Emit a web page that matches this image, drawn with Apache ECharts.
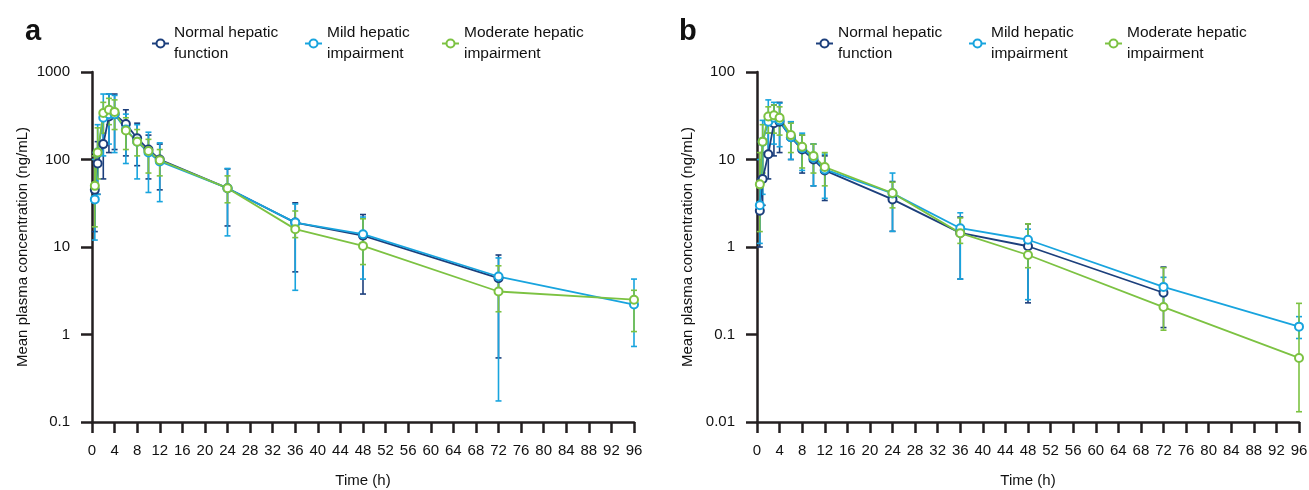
<!DOCTYPE html>
<html>
<head>
<meta charset="utf-8">
<script src="https://cdn.jsdelivr.net/npm/echarts@6/dist/echarts.min.js"></script>
<style>
html, body { margin: 0; padding: 0; background: #fff; }
#main { width: 1309px; height: 490px; }
</style>
</head>
<body>
<div id="main"></div>
<script>
// sampling times (h)
var times = [0.5, 1, 2, 3, 4, 6, 8, 10, 12, 24, 36, 48, 72, 96];
var xTicks = [0, 4, 8, 12, 16, 20, 24, 28, 32, 36, 40, 44, 48, 52, 56, 60, 64, 68, 72, 76, 80, 84, 88, 92, 96];
var names = ['Normal hepatic\nfunction', 'Mild hepatic\nimpairment', 'Moderate hepatic\nimpairment'];

// panel a
var aNormal = [45, 90, 150, 310, 330, 255, 175, 130, 100, 47, 19, 13.5, 4.4];
var aNormalLo = [15, 40, 60, 120, 130, 110, 85, 60, 45, 17.4, 5.2, 2.9, 0.54];
var aNormalHi = [120, 160, 300, 560, 560, 370, 260, 190, 150, 78, 32, 23.5, 8.1];
var aMild = [35, 120, 300, 330, 330, 220, 160, 120, 95, 47, 19, 14, 4.6, 2.2];
var aMildLo = [12, 40, 110, 150, 120, 90, 60, 42, 33, 13.4, 3.2, 4.3, 0.174, 0.73];
var aMildHi = [100, 250, 560, 560, 540, 330, 250, 205, 155, 79, 31, 22, 7.5, 4.3];
var aMod = [50, 120, 340, 370, 350, 215, 160, 125, 98, 47, 16, 10.3, 3.1, 2.5];
var aModLo = [17, 60, 200, 250, 220, 130, 110, 70, 65, 32, 12.8, 6.3, 1.82, 1.08];
var aModHi = [110, 230, 450, 500, 480, 300, 220, 170, 130, 65, 25.8, 21, 6.1, 3.2];

// panel b
var bNormal = [2.6, 6.0, 11.5, 26, 27, 18, 13, 10, 7.5, 3.5, 1.45, 1.02, 0.30];
var bNormalLo = [1, 3, 6, 11, 12, 10, 7, 5, 3.4, 1.51, 0.43, 0.23, 0.12];
var bNormalHi = [6, 12, 20, 42, 45, 27, 19, 15, 11, 5.6, 2.2, 1.84, 0.59];
var bMild = [3, 16, 27, 30, 28, 18, 13.5, 10.5, 7.7, 4.1, 1.64, 1.21, 0.35, 0.123];
var bMildLo = [1.1, 4, 12, 15, 14, 10, 7.5, 5, 3.6, 1.51, 0.43, 0.25, 0.2, 0.09];
var bMildHi = [10, 28, 48, 45, 44, 27, 20, 15, 11.5, 7.0, 2.46, 1.6, 0.45, 0.16];
var bMod = [5.2, 16, 31, 32, 30, 19, 14, 11, 8.2, 4.14, 1.44, 0.81, 0.206, 0.054];
var bModLo = [1.5, 7, 20, 20, 19, 12, 8, 7, 5, 2.8, 1.1, 0.58, 0.112, 0.0131];
var bModHi = [12, 25, 40, 42, 40, 26, 19, 15, 12, 5.5, 2.15, 1.84, 0.58, 0.227];

var colors = ['#1c3f7c', '#18a4de', '#7cc242'];
var font = "'Liberation Sans', Arial, sans-serif";

var dom = document.getElementById('main');
var myChart = echarts.init(dom);

function pts(vals) {
    return vals.map(function (v, i) { return [times[i], v]; });
}
function bars(lo, hi) {
    return lo.map(function (v, i) { return [times[i], v, hi[i]]; });
}
function errRender(params, api) {
    var x = api.value(0);
    var top = api.coord([x, api.value(2)]);
    var bot = api.coord([x, api.value(1)]);
    var w = 3;
    var st = { stroke: api.visual('color'), lineWidth: 1.6 };
    return {
        type: 'group',
        children: [
            { type: 'line', shape: { x1: top[0], y1: top[1], x2: bot[0], y2: bot[1] }, style: st },
            { type: 'line', shape: { x1: top[0] - w, y1: top[1], x2: top[0] + w, y2: top[1] }, style: st },
            { type: 'line', shape: { x1: bot[0] - w, y1: bot[1], x2: bot[0] + w, y2: bot[1] }, style: st }
        ]
    };
}

function lineSeries(name, idx, vals) {
    return {
        name: name,
        type: 'line',
        xAxisIndex: idx,
        yAxisIndex: idx,
        data: pts(vals),
        symbol: 'emptyCircle',
        symbolSize: 8,
        color: colors[names.indexOf(name)],
        lineStyle: { width: 1.8 },
        itemStyle: { borderWidth: 1.8 },
        z: 3
    };
}
function errSeries(name, idx, lo, hi) {
    return {
        name: name + ' err',
        type: 'custom',
        xAxisIndex: idx,
        yAxisIndex: idx,
        data: bars(lo, hi),
        renderItem: errRender,
        itemStyle: { color: colors[names.indexOf(name)] },
        encode: { x: 0, y: [1, 2] },
        z: 2
    };
}

function xAxis(idx) {
    return {
        type: 'value',
        gridIndex: idx,
        min: 0,
        max: 96,
        interval: 4,
        name: 'Time (h)',
        nameLocation: 'middle',
        nameGap: 51,
        nameTextStyle: { fontFamily: font, fontSize: 15, color: '#111' },
        axisLine: { lineStyle: { color: '#231f20', width: 2.5 } },
        axisTick: { length: 11, lineStyle: { color: '#231f20', width: 2.5 } },
        axisLabel: { margin: 21, fontFamily: font, fontSize: 15, color: '#111' },
        splitLine: { show: false }
    };
}
function yAxis(idx, min, max) {
    return {
        type: 'log',
        logBase: 10,
        gridIndex: idx,
        min: min,
        max: max,
        name: 'Mean plasma concentration (ng/mL)',
        nameLocation: 'middle',
        nameGap: 62,
        nameTextStyle: { fontFamily: font, fontSize: 15, color: '#111' },
        axisLine: { show: true, lineStyle: { color: '#231f20', width: 2.5 } },
        axisTick: { show: true, length: 11, lineStyle: { color: '#231f20', width: 2.5 } },
        axisLabel: {
            margin: 22, fontFamily: font, fontSize: 15, color: '#111',
            formatter: function (v) { return String(+(+v).toPrecision(3)); }
        },
        minorTick: { show: false },
        splitLine: { show: false }
    };
}

function legendItem(name, left, top) {
    return {
        data: [name],
        left: left,
        top: top,
        padding: 0,
        orient: 'horizontal',
        itemWidth: 17,
        itemHeight: 10,
        selectedMode: false,
        textStyle: { fontFamily: font, fontSize: 15.5, color: '#111', lineHeight: 21, padding: [21, 0, 0, 0] }
    };
}

option = {
    backgroundColor: '#fff',
    animation: false,
    title: [
        { text: 'a', left: 20, top: 12, textStyle: { fontFamily: 'Liberation Sans, Arial', fontSize: 29, fontWeight: 'bold', color: '#111' } },
        { text: 'b', left: 674, top: 12, textStyle: { fontFamily: 'Liberation Sans, Arial', fontSize: 29, fontWeight: 'bold', color: '#111' } }
    ],
    legend: [
        legendItem(names[0], 151, 12),
        legendItem(names[1], 304, 12),
        legendItem(names[2], 441, 12),
        legendItem(names[0], 815, 12),
        legendItem(names[1], 968, 12),
        legendItem(names[2], 1104, 12)
    ],
    grid: [
        { left: 92, top: 72, width: 542, height: 350, outerBoundsMode: 'none' },
        { left: 757, top: 72, width: 542, height: 350, outerBoundsMode: 'none' }
    ],
    xAxis: [xAxis(0), xAxis(1)],
    yAxis: [yAxis(0, 0.1, 1000), yAxis(1, 0.01, 100)],
    series: [
        errSeries(names[0], 0, aNormalLo, aNormalHi),
        errSeries(names[1], 0, aMildLo, aMildHi),
        errSeries(names[2], 0, aModLo, aModHi),
        lineSeries(names[0], 0, aNormal),
        lineSeries(names[1], 0, aMild),
        lineSeries(names[2], 0, aMod),
        errSeries(names[0], 1, bNormalLo, bNormalHi),
        errSeries(names[1], 1, bMildLo, bMildHi),
        errSeries(names[2], 1, bModLo, bModHi),
        lineSeries(names[0], 1, bNormal),
        lineSeries(names[1], 1, bMild),
        lineSeries(names[2], 1, bMod)
    ]
};

if (option && typeof option === "object") {
    myChart.setOption(option, true);
}
</script>
</body>
</html>
